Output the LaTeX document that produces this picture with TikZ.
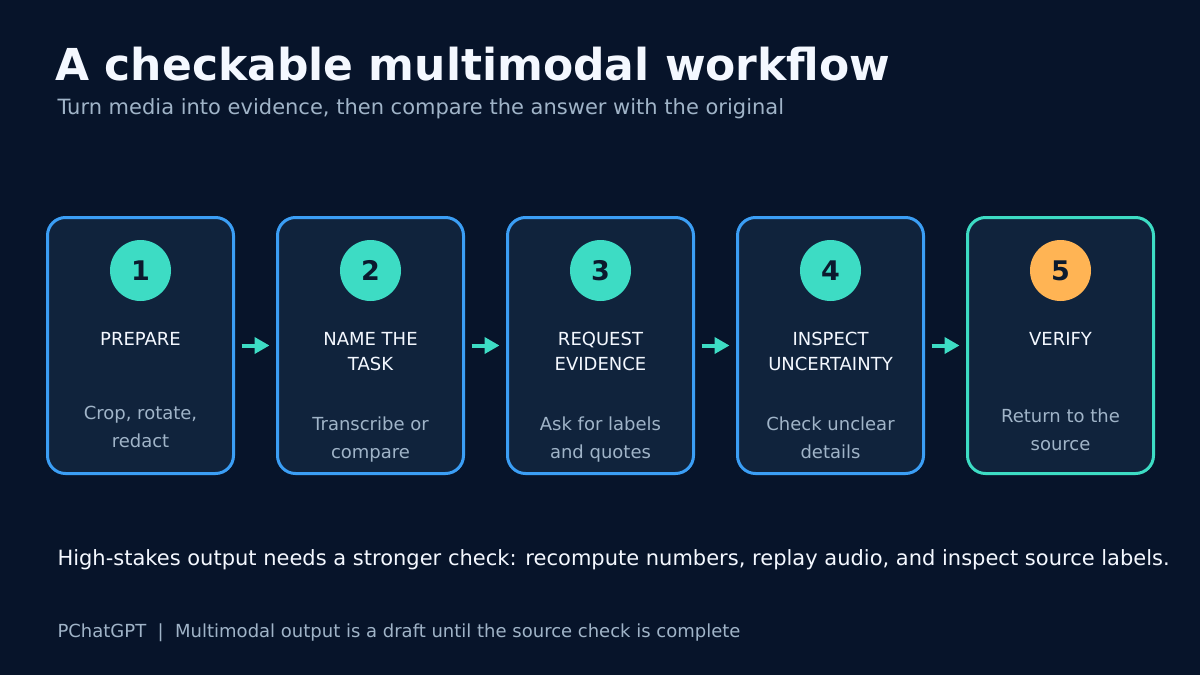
\documentclass[tikz,border=0pt]{standalone}
\usepackage{fontspec}
\setmainfont{DejaVu Sans}
\usetikzlibrary{arrows.meta}

\definecolor{bgnavy}{HTML}{07142A}
\definecolor{cardfill}{HTML}{10233C}
\definecolor{cardblue}{HTML}{3B9EF5}
\definecolor{tealmint}{HTML}{3DDCC4}
\definecolor{amber}{HTML}{FFB454}
\definecolor{inkdark}{HTML}{0B1A2E}
\definecolor{softwhite}{HTML}{F4F8FF}
\definecolor{mutedgray}{HTML}{A0B4C8}

\begin{document}
\begin{tikzpicture}[x=1pt, y=-1pt,
	card/.style={draw=#1, fill=cardfill, line width=3pt, rounded corners=18pt,
		minimum width=186pt, minimum height=256pt, inner sep=0pt},
	badge/.style={circle, fill=#1, minimum size=61pt, inner sep=0pt, text=inkdark,
		font=\bfseries\fontsize{27}{27}\selectfont},
	cardtitle/.style={anchor=base, align=center, text=softwhite,
		font=\fontsize{18}{25}\selectfont},
	cardbody/.style={anchor=base, align=center, text=mutedgray,
		font=\fontsize{18}{28}\selectfont},
	flow/.style={draw=tealmint, line width=4pt, -{Triangle[length=15pt, width=16pt]},
		shorten <=6.5pt, shorten >=6.5pt}]
	% background and page size
	\fill[bgnavy] (0,0) rectangle (1200,675);
	\useasboundingbox (0,0) rectangle (1200,675);

	% heading
	\node[anchor=base west, text=softwhite, font=\bfseries\fontsize{44}{44}\selectfont]
		(title) at (52,80) {A checkable multimodal workflow};
	\node[anchor=base west, text=mutedgray, font=\fontsize{21}{21}\selectfont]
		(subtitle) at (54,114) {Turn media into evidence, then compare the answer with the original};

	% the five steps (last baseline of title and body)
	\foreach \i/\ring/\dot/\head/\hy/\body/\by in {
		1/cardblue/tealmint/PREPARE/345/{Crop, rotate,\\redact}/447,
		2/cardblue/tealmint/{NAME THE\\TASK}/370/{Transcribe or\\compare}/458,
		3/cardblue/tealmint/{REQUEST\\EVIDENCE}/370/{Ask for labels\\and quotes}/458,
		4/cardblue/tealmint/{INSPECT\\UNCERTAINTY}/370/{Check unclear\\details}/458,
		5/tealmint/amber/VERIFY/345/{Return to the\\source}/450}
	{
		\pgfmathsetmacro{\cx}{140.5+230*(\i-1)}
		\node[card=\ring] (b\i) at (\cx,345.5) {};
		\node[badge=\dot] (n\i) at (\cx,270.5) {\i};
		\node[cardtitle] (t\i) at (\cx,\hy) {\head};
		\node[cardbody] (d\i) at (\cx,\by) {\body};
	}

	% connectors
	\foreach \i [evaluate=\i as \j using int(\i+1)] in {1,...,4}
		\draw[flow] (b\i.east) -- (b\j.west);

	% notes
	\node[anchor=base west, text=softwhite, font=\fontsize{21}{21}\selectfont]
		(note) at (54,565) {High-stakes output needs a stronger check: recompute numbers, replay audio, and inspect source labels.};
	\node[anchor=base west, text=mutedgray, font=\fontsize{18}{18}\selectfont]
		(footer) at (54,637) {PChatGPT \ |\ \ Multimodal output is a draft until the source check is complete};
\end{tikzpicture}
\end{document}
